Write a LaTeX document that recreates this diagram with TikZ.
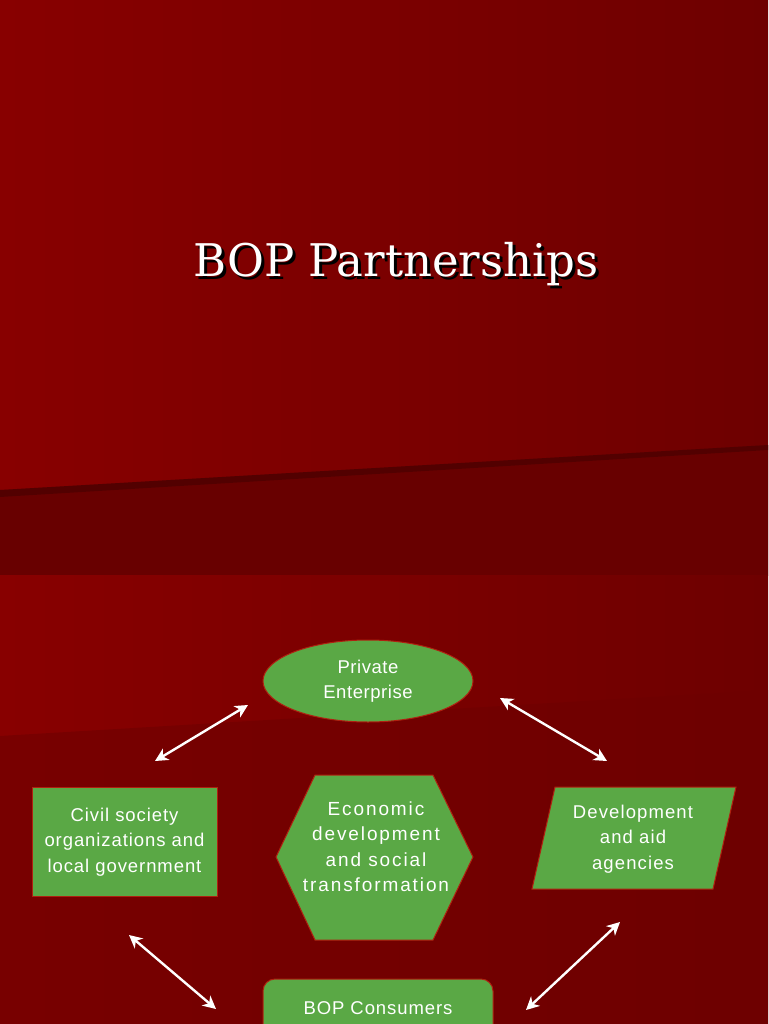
\documentclass[tikz,border=0pt]{standalone}
\usepackage{fontspec}
\setmainfont{Liberation Sans}
\newfontfamily\titlefont{DejaVu Serif}
\usetikzlibrary{shapes.geometric,arrows.meta}
\definecolor{redL}{HTML}{880000}
\definecolor{redR}{HTML}{6E0000}
\definecolor{redD}{HTML}{680000}
\definecolor{grn}{HTML}{5AA845}
\definecolor{edge}{HTML}{B02010}
\tikzset{
  box/.style={fill=grn,draw=edge,line width=1pt},
  lbl/.style={text=white,font=\fontsize{18.5}{25.5}\selectfont,align=center},
  dbl/.style={white,line width=2.4pt,{Stealth[length=13pt,width=13pt,inset=4pt]}-{Stealth[length=13pt,width=13pt,inset=4pt]}}
}
\newcommand{\ls}[1]{\addfontfeature{LetterSpace=#1}}
\begin{document}
\begin{tikzpicture}[x=1pt,y=-1pt]
\useasboundingbox (0,0) rectangle (768,1024);
% top slide
\shade[left color=redL,right color=redR] (0,0) rectangle (768,575);
\fill[redD] (0,490) -- (768,445) -- (768,575) -- (0,575) -- cycle;
\fill[black!40!redD,opacity=0.5] (0,490) -- (768,445) -- (768,450) -- (0,497) -- cycle;
\node (title) at (396,266) {\titlefont\fontsize{45}{50}\selectfont\makebox[0pt][l]{\hspace{3pt}\raisebox{-3pt}{\textcolor{black}{BOP Partnerships}}}\textcolor{white}{BOP Partnerships}};
% bottom slide
\shade[left color=redL,right color=redR] (0,575) rectangle (768,1024);
\fill[redR,opacity=0.6] (0,736) -- (768,690) -- (768,1024) -- (0,1024) -- cycle;
% nodes
\node[box,ellipse,minimum width=210,minimum height=82] (pe) at (368,681) {};
\node[lbl] at (pe) {\ls{3}Private\\\ls{3}Enterprise};
\draw[box] (32,787) rectangle (217,896);
\node[lbl] (cs) at (124.5,842) {\ls{5}Civil society\\\ls{5}organizations and\\\ls{5}local government};
\draw[box] (276,857) -- (315,775) -- (433,775) -- (473,857) -- (433,940) -- (315,940) -- cycle;
\node[lbl,font=\fontsize{19}{25.5}\selectfont,anchor=north] (ec) at (376,798) {\ls{10}Economic\\\ls{10}development\\\ls{10}and social\\\ls{10}transformation};
\draw[box] (532,889) -- (555,787) -- (736,787) -- (713,889) -- cycle;
\node[lbl] (da) at (633,839) {\ls{6}Development\\\ls{6}and aid\\\ls{6}agencies};
\draw[box,rounded corners=12] (263,1040) -- (263,979) -- (493,979) -- (493,1040);
\node[lbl] (bc) at (378,1008) {\ls{5}BOP Consumers};
% arrows
\coordinate (a1) at (248,705); \coordinate (a2) at (155,761);
\coordinate (b1) at (500,698); \coordinate (b2) at (607,761);
\coordinate (c1) at (129,935); \coordinate (c2) at (216,1009);
\coordinate (d1) at (620,922); \coordinate (d2) at (526,1010);
\draw[dbl] (a1) -- (a2);
\draw[dbl] (b1) -- (b2);
\draw[dbl] (c1) -- (c2);
\draw[dbl] (d1) -- (d2);
\end{tikzpicture}
\end{document}
